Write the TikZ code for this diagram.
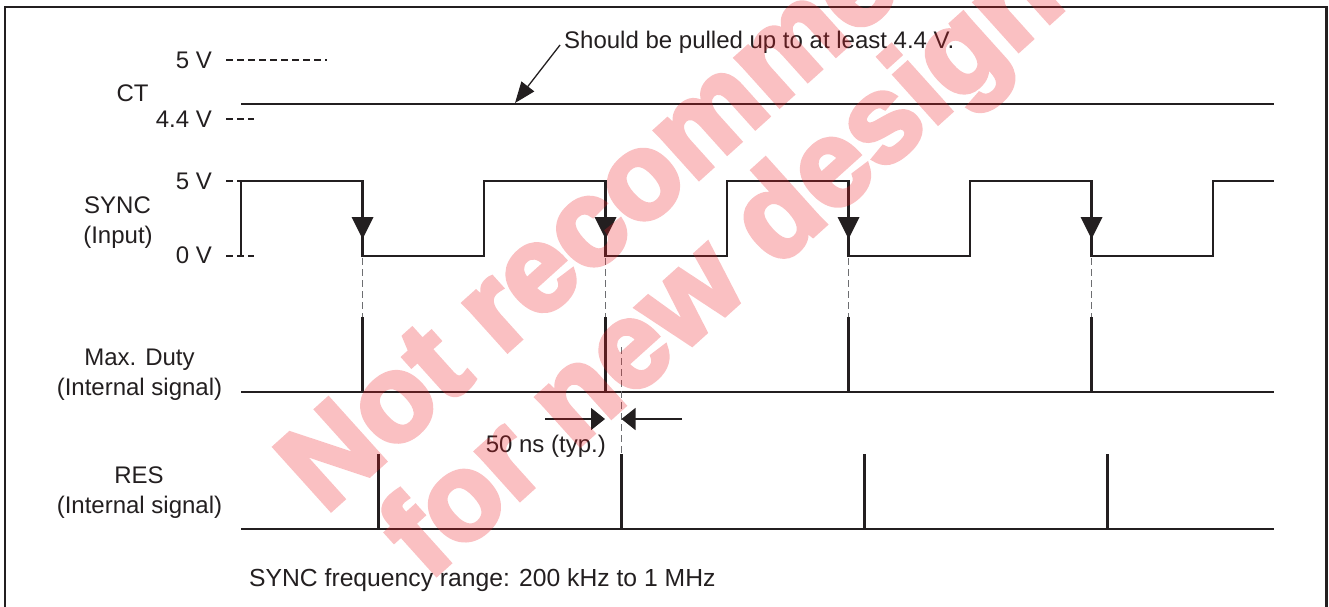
\documentclass[tikz,border=0pt]{standalone}
\usepackage{fontspec}
\setmainfont{Liberation Sans}
\newfontfamily\wmfont[FakeBold=4]{Liberation Sans Bold}
\usetikzlibrary{arrows.meta}
\definecolor{ink}{HTML}{231F20}
\definecolor{guidegray}{HTML}{6D6E71}
\definecolor{wmred}{RGB}{237,28,36}
\begin{document}
\begin{tikzpicture}[x=1pt,y=-1pt,
  lbl/.style={font=\fontsize{24}{28}\selectfont, text=ink, inner sep=0pt},
  wmtext/.style={font=\fontsize{122}{140}\wmfont, text=wmred, inner sep=0pt, anchor=base west, rotate=42},
  wave/.style={draw=ink, line width=2.6pt, line join=miter},
  lvl/.style={draw=ink, line width=1.1pt, dash pattern=on 7pt off 4pt},
  guide/.style={draw=guidegray, line width=1.2pt, dash pattern=on 7pt off 4pt},
  thinarrow/.style={draw=ink, line width=1.3pt},
  edgetip/.style={fill=ink},
]
\useasboundingbox (0,0) rectangle (1329,606);
% frame
\draw[ink, line width=2.5pt] (5,620) -- (5,7) -- (1326.5,7) -- (1326.5,620);

% ---- CT ----
\node[lbl, anchor=base east] (ct5) at (212,68) {5 V};
\node[lbl, anchor=base] (ctlabel) at (132.5,101) {CT};
\node[lbl, anchor=base east] (ct44) at (212,127) {4.4 V};
\draw[lvl] (226,60) -- (327,60);
\draw[lvl] (226,119) -- (254,119);
\draw[wave] (241,104) -- (1274,104);
\node[lbl, anchor=base west] (ann) at (564,48) {Should be pulled up to at least 4.4 V.};
\coordinate (annstart) at (560,45);
\coordinate (cttip) at (515,103);
\draw[thinarrow, -{Triangle[length=21pt,width=16pt]}] (annstart) -- (cttip);

% ---- SYNC ----
\node[lbl, anchor=base east] (s5) at (212,189) {5 V};
\node[lbl, anchor=base] (synclabel) at (117.5,213) {SYNC};
\node[lbl, anchor=base] (syncin) at (118,243) {(Input)};
\node[lbl, anchor=base east] (s0) at (212,263) {0 V};
\draw[lvl] (226,181) -- (254,181);
\draw[lvl] (226,256) -- (254,256);
\draw[wave] (241,256) -- (241,181) -- (362.5,181) -- (362.5,256) -- (484,256) -- (484,181)
  -- (605.5,181) -- (605.5,256) -- (727,256) -- (727,181) -- (848.5,181) -- (848.5,256)
  -- (970,256) -- (970,181) -- (1091.5,181) -- (1091.5,256) -- (1213,256) -- (1213,181) -- (1274,181);
\foreach \x in {362.5,605.5,848.5,1091.5}{
  \fill[edgetip] (\x-11,217) -- (\x+11,217) -- (\x,239) -- cycle;
  \draw[guide] (\x,258) -- (\x,317);
}

% ---- Max. Duty ----
\node[lbl, anchor=base] (mdlabel) at (139.5,365) {Max. Duty};
\node[lbl, anchor=base] (mdint) at (139.5,395) {(Internal signal)};
\draw[wave] (241,392) -- (1274,392);
\foreach \x in {362.5,605.5,848.5,1091.5}{
  \draw[wave] (\x,317) -- (\x,392);
}
\draw[guide] (621.5,347) -- (621.5,454);

% 50 ns dimension
\coordinate (dimL) at (545,419);
\coordinate (dimLtip) at (605,419);
\coordinate (dimR) at (682,419);
\coordinate (dimRtip) at (621.5,419);
\draw[thinarrow, -{Triangle[length=14pt,width=22pt]}] (dimL) -- (dimLtip);
\draw[thinarrow, -{Triangle[length=14pt,width=22pt]}] (dimR) -- (dimRtip);
\node[lbl, anchor=base east] (dimtext) at (606,452) {50 ns (typ.)};

% ---- RES ----
\node[lbl, anchor=base] (reslabel) at (139,483) {RES};
\node[lbl, anchor=base] (resint) at (139.5,513) {(Internal signal)};
\draw[wave] (241,529) -- (1274,529);
\foreach \x in {378.5,621.5,864.5,1107.5}{
  \draw[wave] (\x,454) -- (\x,529);
}

\node[lbl, anchor=base west, font=\fontsize{24.7}{28}\selectfont] (freq) at (249,586) {SYNC frequency range: 200 kHz to 1 MHz};

% watermark
\begin{scope}[transparency group, opacity=0.28]
\node[wmtext] (wm1) at (325,515) {Not recommended};
\node[wmtext] (wm2) at (428,582) {for new design};
\end{scope}
\end{tikzpicture}
\end{document}
